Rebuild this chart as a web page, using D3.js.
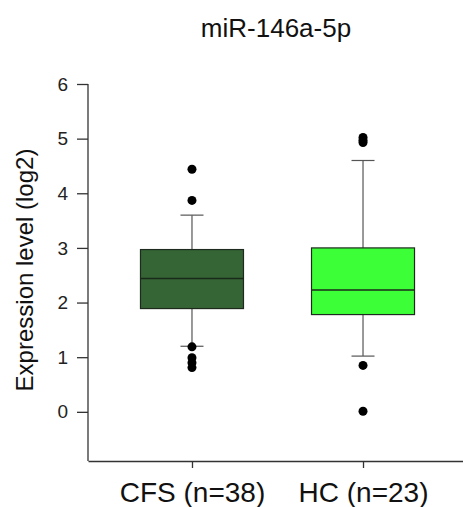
<!DOCTYPE html>
<html>
<head>
  <meta charset="UTF-8">
  <title>miR-146a-5p</title>
  <script src="https://cdn.jsdelivr.net/npm/d3@7"></script>
  <style>
    body { margin: 0; background: #fff; }
    svg { display: block; }
    svg text { font-family: Arial, "Liberation Sans", sans-serif; }
  </style>
</head>
<body>

<div class="chart"></div>

<script>

  // data
  var groups = ['CFS (n=38)', 'HC (n=23)'];
  var q1 = [1.89, 1.78];
  var medians = [2.44, 2.23];
  var q3 = [2.97, 3.00];
  var whiskerLow = [1.20, 1.02];
  var whiskerHigh = [3.60, 4.60];
  var outliers = [
    [4.44, 3.87, 1.19, 0.99, 0.90, 0.81],
    [5.02, 4.97, 4.93, 0.85, 0.01]
  ];
  var fills = ['#366535', '#3cff37'];
  var yTicks = [0, 1, 2, 3, 4, 5, 6];

  var W = 463, H = 507;
  var margin = { top: 84, right: -4, bottom: 46, left: 88 };
  var width = W - margin.left - margin.right;
  var height = H - margin.top - margin.bottom;

  var svg = d3.select('.chart')
    .append('svg')
      .attr('width', W)
      .attr('height', H);

  var g = svg.append('g')
      .attr('transform', `translate(${margin.left}, ${margin.top})`);

  var x = d3.scalePoint()
    .domain(groups)
    .range([0, width])
    .padding(0.608);

  var y = d3.scaleLinear()
    .domain([-0.9, 6])
    .range([height, 0]);

  // axes
  var yAxis = g.append('g')
    .call(d3.axisLeft(y).tickValues(yTicks).tickFormat(d3.format('d'))
      .tickSize(11).tickPadding(9).tickSizeOuter(0));
  yAxis.select('.domain').attr('d', `M0,${y(6)}V${height}`);

  var xAxis = g.append('g')
    .attr('transform', `translate(0, ${height})`)
    .call(d3.axisBottom(x).tickSize(7).tickPadding(14).tickSizeOuter(0));

  [yAxis, xAxis].forEach(ax => {
    ax.attr('font-family', null);
    ax.selectAll('.domain').attr('stroke', '#333').attr('stroke-width', 1.3);
    ax.selectAll('.tick line').attr('stroke', '#333').attr('stroke-width', 1.3);
  });
  yAxis.attr('font-size', 19).selectAll('.tick text').attr('fill', '#222');
  xAxis.attr('font-size', 28).selectAll('.tick text').attr('fill', '#111');

  // y label
  svg.append('text')
    .attr('transform', 'translate(33, 270) rotate(-90)')
    .attr('text-anchor', 'middle')
    .attr('font-size', 24)
    .attr('fill', '#111')
    .text('Expression level (log2)');

  // title
  svg.append('text')
    .attr('x', 276)
    .attr('y', 37)
    .attr('text-anchor', 'middle')
    .attr('font-size', 26)
    .attr('fill', '#111')
    .text('miR-146a-5p');

  var boxW = 103, capW = 23;

  var box = g.selectAll('.box')
    .data(groups)
    .enter()
    .append('g')
      .attr('class', 'box')
      .attr('transform', d => `translate(${x(d)}, 0)`);

  // whiskers
  box.append('line')
    .attr('y1', (d, i) => y(whiskerHigh[i]))
    .attr('y2', (d, i) => y(whiskerLow[i]))
    .attr('stroke', '#555').attr('stroke-width', 1.2);
  box.selectAll('.cap')
    .data((d, i) => [whiskerLow[i], whiskerHigh[i]])
    .enter()
    .append('line')
      .attr('x1', -capW / 2).attr('x2', capW / 2)
      .attr('y1', v => y(v)).attr('y2', v => y(v))
      .attr('stroke', '#555').attr('stroke-width', 1.2);

  // boxes
  box.append('rect')
    .attr('x', -boxW / 2)
    .attr('width', boxW)
    .attr('y', (d, i) => y(q3[i]))
    .attr('height', (d, i) => y(q1[i]) - y(q3[i]))
    .attr('fill', (d, i) => fills[i])
    .attr('stroke', '#1e2a1e').attr('stroke-width', 1.2);

  box.append('line')
    .attr('x1', -boxW / 2).attr('x2', boxW / 2)
    .attr('y1', (d, i) => y(medians[i]))
    .attr('y2', (d, i) => y(medians[i]))
    .attr('stroke', '#1a2a1a').attr('stroke-width', 1.5);

  // outliers
  box.selectAll('.out')
    .data((d, i) => outliers[i])
    .enter()
    .append('circle')
      .attr('class', 'out')
      .attr('cy', v => y(v))
      .attr('r', 4.5)
      .attr('fill', '#000');

</script>

</body>
</html>
